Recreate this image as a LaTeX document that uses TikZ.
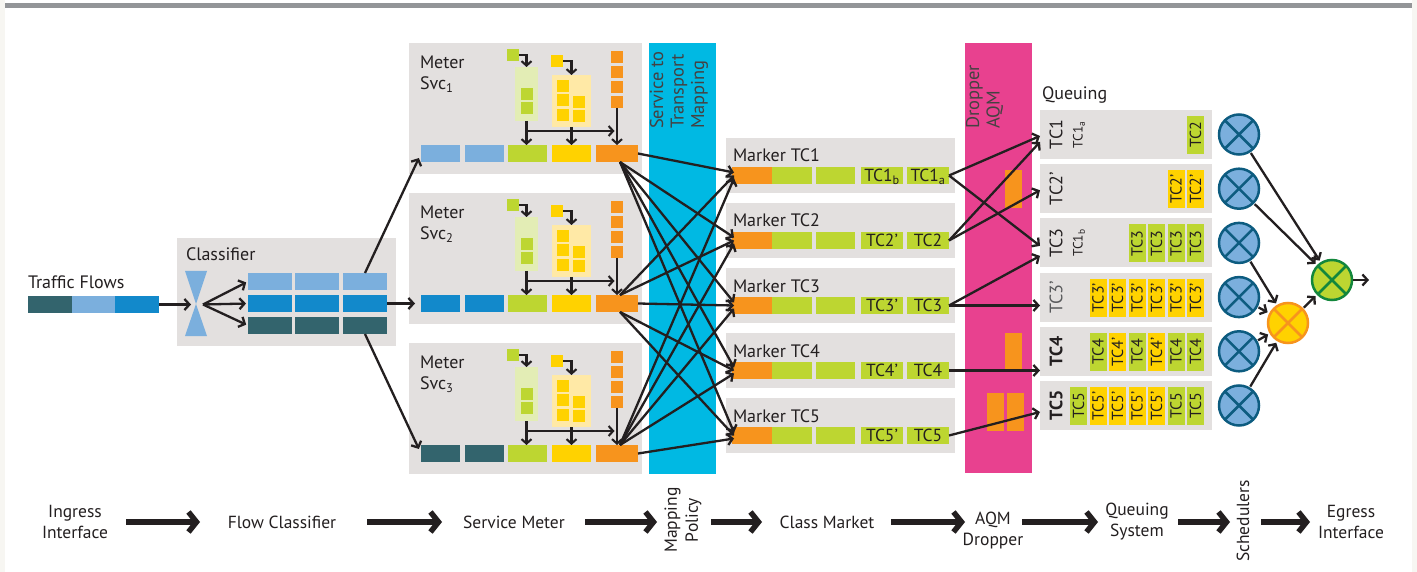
\documentclass[tikz,border=0pt]{standalone}
\usepackage{fontspec}
\setmainfont{PT Sans}
\usetikzlibrary{arrows.meta}
\definecolor{offw}{HTML}{F7F6F2}
\definecolor{topg}{HTML}{939598}
\definecolor{boxg}{HTML}{E3E0DF}
\definecolor{lblue}{HTML}{7BAFDD}
\definecolor{mblue}{HTML}{1289CB}
\definecolor{dteal}{HTML}{33646D}
\definecolor{grn}{HTML}{BDD631}
\definecolor{yel}{HTML}{FFD200}
\definecolor{org}{HTML}{F7941D}
\definecolor{pgrn}{HTML}{E3EDB5}
\definecolor{pyel}{HTML}{FFE9A6}
\definecolor{cyanb}{HTML}{00B9E3}
\definecolor{magb}{HTML}{E8418F}
\definecolor{ring}{HTML}{0D5C80}
\definecolor{ink}{HTML}{231F20}
\definecolor{dgrn}{HTML}{13873C}
\definecolor{qgray}{HTML}{58595B}
\newcommand\fsz[2]{\fontsize{#1}{#2}\selectfont}
\begin{document}
\begin{tikzpicture}[x=1pt,y=-1pt,
  arr/.style={draw=ink, line width=2.3pt, -{Straight Barb[length=5pt,width=11pt]}},
  tarr/.style={draw=ink, line width=2.1pt, -{Straight Barb[length=4.5pt,width=10pt]}},
  bigarr/.style={draw=ink, line width=5.5pt, -{Straight Barb[length=8pt,width=20pt]}},
  seg/.style={inner sep=0pt, outer sep=0pt, minimum height=17pt, minimum width=#1, anchor=north west},
  seg/.default=40pt,
  sq/.style={inner sep=0pt, outer sep=0pt, minimum width=12pt, minimum height=12pt, anchor=north west},
  rbox/.style={inner sep=0pt, outer sep=0pt, anchor=north west},
  lbl/.style={inner sep=0pt, outer sep=0pt, text=ink},
  big/.style={font=\fsz{18}{21}},
  tlbl/.style={seg=42pt, fill=grn, text=ink, font=\fsz{17.5}{20}, text height=12.3pt, text depth=0pt},
  pkt/.style={rotate=90, inner sep=0pt, outer sep=0pt, minimum width=38pt, minimum height=17pt, text=ink, font=\fsz{16}{18}, text height=11pt, text depth=0pt},
  qbox/.style={fill=boxg, inner sep=0pt, outer sep=0pt, minimum width=172pt, minimum height=49pt, anchor=north west},
  sch/.style={circle, inner sep=0pt, outer sep=0pt, minimum size=40pt, line width=2.5pt, draw=ring, fill=lblue},
  xl/.style={line width=2.5pt, draw=ring},
  blbl/.style={lbl, align=center, font=\fsz{17.5}{21}},
]
\useasboundingbox (0,0) rectangle (1417,572);
\fill[offw] (0,0) rectangle (1417,572);
\fill[white] (5,0) rectangle (1412,572);
\fill[topg] (5,3) rectangle (1412,8);

% ---------- traffic flows ----------
\node[lbl,big,anchor=base west] (tft) at (28,289) {Traffic Flows};
\node[seg=44pt,fill=dteal] (tf1) at (28,296) {};
\node[seg=43pt,fill=lblue] (tf2) at (72,296) {};
\node[seg=44pt,fill=mblue] (tf3) at (115,296) {};

% ---------- classifier ----------
\fill[boxg] (177,238) rectangle (396,346);
\node[lbl,big,anchor=base west] (clt) at (186,261) {Classifier};
\fill[lblue] (185,271) -- (207,271) -- (196,304) -- cycle;
\fill[lblue] (196,304) -- (207,336) -- (185,336) -- cycle;
\coordinate (hg) at (196,304.5);
\coordinate (fan) at (203,304.5);
\foreach \r/\ry/\rc in {1/273/lblue,2/295/mblue,3/317/dteal}{
  \foreach \c/\cx in {1/248,2/295,3/343}{
    \node[seg=44pt,fill=\rc] (cr\r\c) at (\cx,\ry) {};
  }
}
\draw[arr, shorten >=5pt] (tf3.east) -- (hg);
\draw[arr, shorten >=2pt] (fan) -- (cr11.west);
\draw[arr, shorten >=2pt] (fan) -- (cr21.west);
\draw[arr, shorten >=2pt] (fan) -- (cr31.west);

% ---------- meters ----------
\foreach \k/\dy/\bc in {1/0/lblue,2/150/mblue,3/300/dteal}{
 \begin{scope}[yshift=-\dy pt]
  \fill[boxg] (409,43) rectangle (642,174);
  \node[lbl,big,anchor=north west,align=left] (mt\k) at (420,56) {Meter\\Svc\textsubscript{\k}};
  \node[seg=39pt,fill=\bc] (ma\k) at (421,145) {};
  \node[seg=39pt,fill=\bc] (mc\k) at (465,145) {};
  \node[seg=39pt,fill=grn] (mg\k) at (508,145) {};
  \node[seg=39pt,fill=yel] (my\k) at (552,145) {};
  \node[seg=42pt,fill=org] (mo\k) at (596,145) {};
  % green meter
  \node[sq,fill=grn] (gs\k) at (507,49) {};
  \node[rbox,minimum width=23pt,minimum height=54pt,fill=pgrn] (pg\k) at (515,67) {};
  \node[sq,fill=grn] (gia\k) at (521,88) {};
  \node[sq,fill=grn] (gib\k) at (521,102) {};
  % yellow meter
  \node[sq,fill=yel] (ys\k) at (551,55) {};
  \node[rbox,minimum width=39pt,minimum height=52pt,fill=pyel] (py\k) at (552,75) {};
  \node[sq,fill=yel] (yia\k) at (557,80) {};
  \node[sq,fill=yel] (yib\k) at (557,94) {};
  \node[sq,fill=yel] (yic\k) at (557,109) {};
  \node[sq,fill=yel] (yid\k) at (573,96) {};
  \node[sq,fill=yel] (yie\k) at (573,110) {};
  % orange column
  \node[sq,fill=org] (oa\k) at (611,51) {};
  \node[sq,fill=org] (ob\k) at (611,66) {};
  \node[sq,fill=org] (od\k) at (611,81) {};
  \node[sq,fill=org] (oc\k) at (611,96) {};
  % internal arrows
  \draw[tarr] (gs\k.east) -| (pg\k.north);
  \draw[tarr] (ys\k.east) -| (py\k.north);
  \draw[tarr] (pg\k.south) -- (pg\k.south |- mg\k.north);
  \draw[tarr] (py\k.south) -- (py\k.south |- my\k.north);
  \draw[tarr] (oc\k.south) -- (oc\k.south |- mo\k.north);
  \coordinate (hs\k) at (526.5,131);
  \draw[tarr, shorten >=2.5pt] (hs\k) -- (oc\k.south |- hs\k);
 \end{scope}
}
\draw[arr, shorten >=5pt] (cr13.north) -- (ma1.west);
\draw[arr, shorten >=6pt] (cr23.east) -- (ma2.west);
\draw[arr, shorten >=5pt] (cr33.south) -- (ma3.west);

% ---------- mapping band ----------
\fill[cyanb] (649,43) rectangle (716,474);
\node[lbl,rotate=90,anchor=north west,align=left,font=\fsz{18.5}{20.5},text=ink!85] (mapt) at (650,129) {Service to\\Transport\\Mapping};

% ---------- markers ----------
\foreach \i/\dy/\ta/\tb in {1/0/{TC1\textsubscript{b}}/{TC1\textsubscript{a}},2/65/{TC2’}/{TC2},3/130/{TC3’}/{TC3},4/195/{TC4’}/{TC4},5/260/{TC5’}/{TC5}}{
 \begin{scope}[yshift=-\dy pt]
  \fill[boxg] (726,138) rectangle (955,193);
  \node[lbl,big,anchor=base west] (mkt\i) at (733,162) {Marker TC\i};
  \node[seg=40pt,fill=org] (mk\i) at (732,167) {};
  \node[seg=40pt,fill=grn] (mkg\i) at (772,167) {};
  \node[seg=39pt,fill=grn] (mkh\i) at (816,167) {};
  \node[tlbl] (mkp\i) at (861,167) {\ta};
  \node[tlbl] (mkl\i) at (907,167) {\tb};
 \end{scope}
}

% meter -> marker connectors
\draw[arr] (mo1.east) -- ([xshift=2pt,yshift=3pt]mk1.west);
\foreach \i in {2,...,5} \draw[arr] ([xshift=3pt]mo1.south) -- ([xshift=2pt,yshift=3pt]mk\i.west);
\foreach \i in {1,2} \draw[arr] ([xshift=3pt]mo2.north) -- ([xshift=2pt]mk\i.west);
\draw[arr] (mo2.east) -- ([xshift=2pt]mk3.west);
\foreach \i in {4,5} \draw[arr] ([xshift=3pt]mo2.south) -- ([xshift=2pt]mk\i.west);
\foreach \i in {1,...,4} \draw[arr] ([xshift=3pt]mo3.north) -- ([xshift=2pt,yshift=-3pt]mk\i.west);
\draw[arr] (mo3.east) -- ([xshift=2pt,yshift=-3pt]mk5.west);

% ---------- dropper band ----------
\fill[magb] (965,43) rectangle (1032,473);
\node[lbl,rotate=90,anchor=north west,align=left,font=\fsz{18.5}{20.5},text=ink!85] (drt) at (966,129) {Dropper\\AQM};
\fill[org] (1005,170) rectangle (1022,208);
\fill[org] (1005,333) rectangle (1022,371);
\fill[org] (987,393) rectangle (1004,431);
\fill[org] (1007,393) rectangle (1024,431);

% ---------- queues ----------
\node[lbl,big,anchor=base west] (qt) at (1042,100) {Queuing};
\foreach \j/\tp in {1/110,2/164.2,3/218.4,4/272.6,5/326.8,6/381}{
  \node[qbox] (q\j) at (1040,\tp) {};
}
\node[lbl,big,rotate=90] (ql1) at (1056,134.5) {TC1};
\node[lbl,big,rotate=90] (ql2) at (1056,188.7) {TC2’};
\node[lbl,big,rotate=90] (ql3) at (1056,242.9) {TC3};
\node[lbl,big,rotate=90,text=qgray] (ql4) at (1056,297.1) {TC3’};
\node[lbl,big,rotate=90,font=\fsz{18}{21}\bfseries] (ql5) at (1056,351.3) {TC4};
\node[lbl,big,rotate=90,font=\fsz{18}{21}\bfseries] (ql6) at (1056,405.5) {TC5};
\node[lbl,rotate=90,font=\fsz{13.5}{15}] (qs1) at (1079,134.5) {TC1\textsubscript{a}};
\node[lbl,rotate=90,font=\fsz{13.5}{15}] (qs3) at (1079,242.9) {TC1\textsubscript{b}};

\foreach \q/\c/\col/\t in {1/1/grn/TC2,
  2/1/yel/TC2’,2/2/yel/TC2’,
  3/1/grn/TC3,3/2/grn/TC3,3/3/grn/TC3,3/4/grn/TC3,
  4/1/yel/TC3’,4/2/yel/TC3’,4/3/yel/TC3’,4/4/yel/TC3’,4/5/yel/TC3’,4/6/yel/TC3’,
  5/1/grn/TC4,5/2/grn/TC4,5/3/yel/TC4’,5/4/grn/TC4,5/5/yel/TC4’,5/6/grn/TC4,
  6/1/grn/TC5,6/2/grn/TC5,6/3/yel/TC5’,6/4/yel/TC5’,6/5/yel/TC5’,6/6/yel/TC5’,6/7/grn/TC5}{
  \node[pkt,fill=\col] (p\q\c) at ({1215-19.5*\c},{135+54.2*(\q-1)}) {\t};
}

% marker -> queue connectors
\draw[arr] (mkl1.east) -- ([yshift=-1.5pt]q1.west);
\draw[arr] (mkl1.east) -- ([yshift=-3pt]q3.west);
\draw[arr] (mkl2.east) -- ([yshift=-7.5pt]q1.west);
\draw[arr] (mkl2.east) -- ([yshift=-1.5pt]q2.west);
\draw[arr] (mkl3.east) -- ([yshift=-13pt]q3.west);
\draw[arr] (mkl3.east) -- (mkl3.east -| q4.west);
\draw[arr] (mkl4.east) -- (mkl4.east -| q5.west);
\draw[arr] (mkl5.east) -- ([yshift=-6.5pt]q6.west);

% ---------- schedulers ----------
\foreach \j in {1,...,6}{
  \node[sch] (s\j) at (1239,{134.5+54.2*(\j-1)}) {};
  \draw[xl] (s\j.45) -- (s\j.225) (s\j.135) -- (s\j.-45);
}
\node[sch,fill=yel,draw=org] (yc) at (1288,323) {};
\draw[xl,draw=org] (yc.45) -- (yc.225) (yc.135) -- (yc.-45);
\node[sch,fill=grn,draw=dgrn] (gc) at (1332,280) {};
\draw[xl,draw=dgrn] (gc.45) -- (gc.225) (gc.135) -- (gc.-45);
\coordinate (eg) at (1369,280);
\draw[arr, shorten >=3pt, shorten <=2pt] (s1) -- (gc);
\draw[arr, shorten >=3pt, shorten <=2pt] (s2) -- (gc);
\draw[arr, shorten >=3pt, shorten <=2pt] (s3) -- (yc);
\draw[arr, shorten >=3pt, shorten <=2pt] (s4) -- (yc);
\draw[arr, shorten >=3pt, shorten <=2pt] (s5) -- (yc);
\draw[arr, shorten >=3pt, shorten <=2pt] (s6) -- (yc);
\draw[arr, shorten >=3pt, shorten <=2pt] (yc) -- (gc);
\draw[arr, shorten <=1pt] (gc) -- (eg);

% ---------- bottom pipeline ----------
\node[blbl] (b1) at (75,522) {Ingress\\Interface};
\node[blbl] (b2) at (282,522) {Flow Classifier};
\node[blbl] (b3) at (514,522) {Service Meter};
\node[blbl,rotate=90] (b4) at (683,520) {Mapping\\Policy};
\node[blbl] (b5) at (827,522) {Class Market};
\node[blbl] (b6) at (993,531) {AQM\\Dropper};
\node[blbl] (b7) at (1137,522) {Queuing\\System};
\node[blbl,rotate=90] (b8) at (1243,521) {Schedulers};
\node[blbl] (b9) at (1351,522) {Egress\\Interface};
\draw[bigarr, shorten <=51pt, shorten >=82pt] (b1.center) -- (b2.center);
\draw[bigarr, shorten <=85pt, shorten >=72pt] (b2.center) -- (b3.center);
\draw[bigarr, shorten <=71pt, shorten >=26pt] (b3.center) -- (b4.center |- b3.center);
\draw[bigarr, shorten <=28pt, shorten >=65pt] (b4.center |- b5.center) -- (b5.center);
\draw[bigarr, shorten <=64pt, shorten >=28pt] (b5.center) -- (b6.center |- b5.center);
\draw[bigarr, shorten <=29pt, shorten >=39pt] (b6.center |- b7.center) -- (b7.center);
\draw[bigarr, shorten <=41pt, shorten >=13pt] (b7.center) -- (b8.center |- b7.center);
\draw[bigarr, shorten <=18pt, shorten >=41pt] (b8.center |- b9.center) -- (b9.center);
\end{tikzpicture}
\end{document}
